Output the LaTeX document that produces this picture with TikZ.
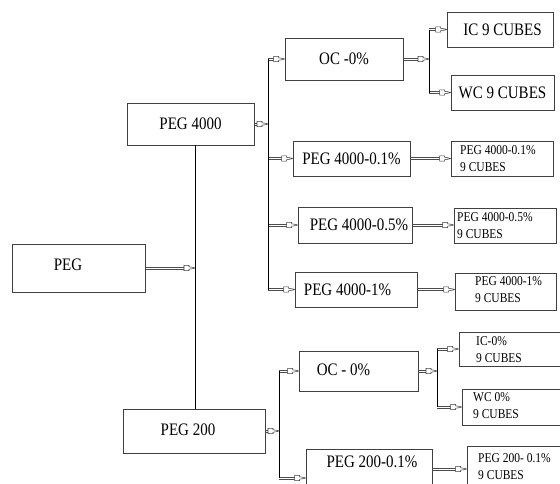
\documentclass[tikz,border=0pt]{standalone}
\usepackage{fontspec}
\usepackage{graphicx}
\setmainfont{Liberation Serif}
\newcommand\tx[1]{\scalebox{1}[1.17]{#1}}
\newcommand\twol[2]{\tx{\begin{tabular}{@{}l@{}}#1\\#2\end{tabular}}}
\newcommand\conn[2]{%
  \draw[shaft] ([yshift=1.2pt]#1) -- ([xshift=-11pt,yshift=1.2pt]#2);
  \draw[shaft] ([yshift=-1.2pt]#1) -- ([xshift=-11pt,yshift=-1.2pt]#2);
  \draw[tipst] ([xshift=-11pt,yshift=2.6pt]#2) -- ([xshift=-6pt,yshift=2.6pt]#2)
    -- ([xshift=-6pt,yshift=1.2pt]#2) -- ([xshift=-2pt,yshift=0.6pt]#2) -- (#2)
    -- ([xshift=-2pt,yshift=-0.6pt]#2) -- ([xshift=-6pt,yshift=-1.2pt]#2)
    -- ([xshift=-6pt,yshift=-2.6pt]#2) -- ([xshift=-11pt,yshift=-2.6pt]#2) -- cycle;}
\begin{document}
\begin{tikzpicture}[x=1pt,y=-1pt,
  box/.style={draw=black!75, line width=0.8pt, rectangle, inner sep=0pt,
    font=\fontsize{15}{18}\selectfont},
  big/.style={font=\fontsize{15}{18}\selectfont, inner sep=0pt},
  small/.style={font=\fontsize{11.5}{14.5}\selectfont, anchor=west, inner sep=0pt},
  shaft/.style={draw=black!70, line width=0.6pt},
  tipst/.style={draw=black!75, fill=white, line width=0.55pt, line join=miter},
  bus/.style={draw=black, line width=0.8pt}]
\clip (0,0) rectangle (560,483);
\fill[white] (0,0) rectangle (560,483);

% left column
\node[box, minimum width=133, minimum height=48] (peg) at (78.5,268) {};
\node[big] (pegt) at (68,265) {\tx{PEG}};
\node[box, minimum width=127, minimum height=42] (p4000) at (190.5,124) {\tx{PEG 4000}};
\node[box, minimum width=142, minimum height=44] (p200) at (194,431) {};
\node[big] (p200t) at (188,430) {\tx{PEG 200}};

% PEG 4000 branch
\node[box, minimum width=118, minimum height=42] (oc1) at (344,59) {\tx{OC -0\%}};
\node[box, minimum width=106, minimum height=35] (ic1) at (500,29.5) {\hspace*{5pt}\tx{IC 9 CUBES}};
\node[box, minimum width=103, minimum height=35] (wc1) at (502.5,92.5) {\tx{WC 9 CUBES}};
\node[box, minimum width=117, minimum height=35] (a01) at (351.5,158.5) {\tx{PEG 4000-0.1\%}};
\node[box, minimum width=102, minimum height=35] (a01c) at (502,158.5) {};
\node[small] (a01ct) at (460,159.5) {\twol{PEG 4000-0.1\%}{9 CUBES}};
\node[box, minimum width=114, minimum height=36] (a05) at (355,225) {};
\node[big] (a05t) at (359,225) {\tx{PEG 4000-0.5\%}};
\node[box, minimum width=102, minimum height=35] (a05c) at (505,225.5) {};
\node[small] (a05ct) at (457,227) {\twol{PEG 4000-0.5\%}{9 CUBES}};
\node[box, minimum width=122, minimum height=35] (a1) at (356,289.5) {};
\node[big] (a1t) at (347.5,290) {\tx{PEG 4000-1\%}};
\node[box, minimum width=101, minimum height=37] (a1c) at (505.5,291.5) {};
\node[small] (a1ct) at (475,291) {\twol{PEG 4000-1\%}{9 CUBES}};

% PEG 200 branch
\node[box, minimum width=119, minimum height=40] (oc2) at (358.5,371) {};
\node[big] (oc2t) at (343.5,370) {\tx{OC - 0\%}};
\node[box, minimum width=106, minimum height=34] (ic2) at (512,349) {};
\node[small] (ic2t) at (476,350.5) {\twol{IC-0\%}{9 CUBES}};
\node[box, minimum width=104, minimum height=36] (wc2) at (514,407) {};
\node[small] (wc2t) at (473,406.5) {\twol{WC 0\%}{9 CUBES}};
\node[box, minimum width=126, minimum height=58] (b01) at (369,478) {};
\node[big] (b01t) at (372,462) {\tx{PEG 200-0.1\%}};
\node[box, minimum width=98, minimum height=46] (b01c) at (516,469) {};
\node[small] (b01ct) at (478,468) {\twol{PEG 200- 0.1\%}{9 CUBES}};

% bus positions
\coordinate (vx) at (195,0);
\coordinate (bx4) at (268,0);
\coordinate (bx1) at (429,0);
\coordinate (bx2) at (279,0);
\coordinate (bx3) at (437,0);

% junction points
\coordinate (jpeg) at (peg.east -| vx);
\coordinate (j4) at (p4000.east -| bx4);
\coordinate (j4a) at (oc1.west -| bx4);
\coordinate (j4b) at (a01.west -| bx4);
\coordinate (j4c) at (a05.west -| bx4);
\coordinate (j4d) at (a1.west -| bx4);
\coordinate (j1) at (oc1.east -| bx1);
\coordinate (j1a) at (ic1.west -| bx1);
\coordinate (j1b) at (wc1.west -| bx1);
\coordinate (j2) at (p200.east -| bx2);
\coordinate (j2a) at (oc2.west -| bx2);
\coordinate (j2b) at (b01.west -| bx2);
\coordinate (j3) at (oc2.east -| bx3);
\coordinate (j3a) at (ic2.west -| bx3);
\coordinate (j3b) at (wc2.west -| bx3);
\coordinate (ea01) at (a01.east -| a01c.west);
\coordinate (ea05) at (a05.east -| a05c.west);
\coordinate (ea1) at (a1.east -| a1c.west);
\coordinate (sb01) at (b01.east |- 0,469);
\coordinate (eb01) at (b01c.west |- 0,469);

% connectors
\conn{peg.east}{jpeg}
\conn{p4000.east}{j4}
\conn{j4a}{oc1.west}
\conn{j4b}{a01.west}
\conn{j4c}{a05.west}
\conn{j4d}{a1.west}
\conn{oc1.east}{j1}
\conn{j1a}{ic1.west}
\conn{j1b}{wc1.west}
\conn{a01.east}{ea01}
\conn{a05.east}{ea05}
\conn{a1.east}{ea1}
\conn{sb01}{eb01}
\conn{p200.east}{j2}
\conn{j2a}{oc2.west}
\conn{j2b}{b01.west}
\conn{oc2.east}{j3}
\conn{j3a}{ic2.west}
\conn{j3b}{wc2.west}

% buses
\draw[bus] (p4000.south -| vx) -- (p200.north -| vx);
\draw[bus] (j4a) -- (j4d);
\draw[bus] (j1a) -- (j1b);
\draw[bus] (j2a) -- (j2b);
\draw[bus] (j3a) -- (j3b);
\end{tikzpicture}
\end{document}
